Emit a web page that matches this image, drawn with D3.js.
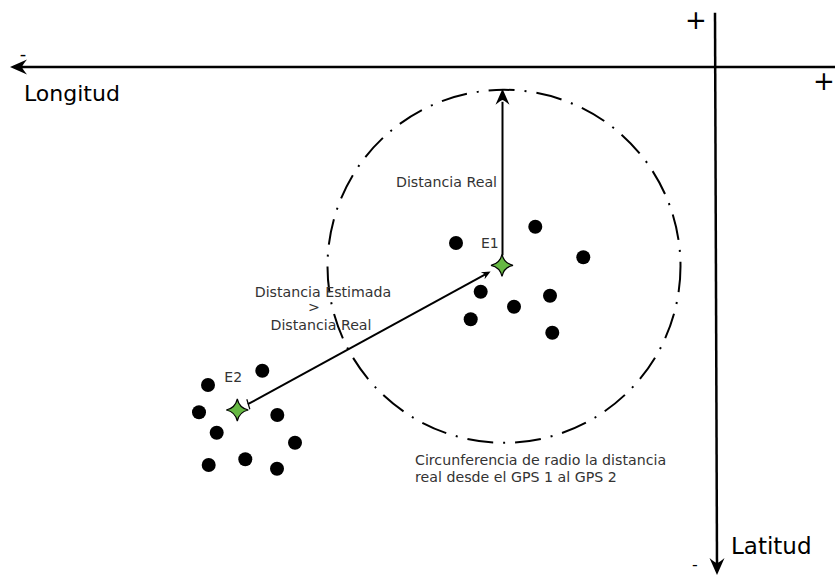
<!DOCTYPE html>
<html>
<head>
<meta charset="utf-8">
<script src="https://cdn.jsdelivr.net/npm/d3@7"></script>
<style>
  body { margin: 0; background: #fff; }
  text { font-family: "DejaVu Sans", sans-serif; }
</style>
</head>
<body>
<div id="chart"></div>
<script>
const WIDTH = 835;
const HEIGHT = 575;
const TEXT_COLOR = "#333";
const STAR_COLOR = "#66b843";

// positions in map units, origin where the two axes cross
const gps1Lon = [-25.9, -17.97, -13.17, -23.43, -20.1, -16.5, -24.43, -16.27];
const gps1Lat = [-17.6, -15.97, -19.03, -22.47, -23.97, -22.87, -25.23, -26.57];
const gps2Lon = [-45.27, -50.7, -51.6, -49.83, -43.77, -42.0, -50.63, -46.97, -43.8];
const gps2Lat = [-30.37, -31.8, -34.53, -36.57, -34.8, -37.57, -39.8, -39.23, -40.17];
const estimateNames = ["E1", "E2"];
const estimateLon = [-21.3, -47.77];
const estimateLat = [-19.83, -34.3];
const circleCenter = [-21.1, -19.93];
const circleRadius = 17.65;

const svg = d3.select("#chart")
    .append("svg")
    .attr("width", WIDTH)
    .attr("height", HEIGHT);

const x = d3.scaleLinear().domain([-70, 12]).range([15, 835]);
const y = d3.scaleLinear().domain([0, -50]).range([67, 567]);
const unit = x(1) - x(0);

// arrow head with a hollowed back, tip at (tx, ty), pointing along angle
function arrowHead(tx, ty, angle, len, half) {
    const c = Math.cos(angle), s = Math.sin(angle);
    const pt = (a, b) => [tx - a * c - b * s, ty - a * s + b * c];
    const p1 = pt(len, -half), p2 = pt(len * 0.7, 0), p3 = pt(len, half);
    return `M${tx},${ty}L${p1}Q${pt(len * 0.75, -half * 0.3)} ${p2}Q${pt(len * 0.75, half * 0.3)} ${p3}Z`;
}

// axes
svg.append("line")
    .attr("x1", x(-69.6)).attr("y1", y(0))
    .attr("x2", x(12)).attr("y2", y(0))
    .attr("stroke", "#000").attr("stroke-width", 2.5);
svg.append("path")
    .attr("d", arrowHead(x(-70.5), y(0), Math.PI, 17, 7.5))
    .attr("fill", "#000");

svg.append("line")
    .attr("x1", x(0)).attr("y1", y(5.43))
    .attr("x2", x(0.2)).attr("y2", y(-49.9))
    .attr("stroke", "#000").attr("stroke-width", 2.5);
svg.append("path")
    .attr("d", arrowHead(x(0.2), y(-50.8), Math.PI / 2, 17, 7.5))
    .attr("fill", "#000");

svg.append("text").attr("x", 696).attr("y", 29).attr("text-anchor", "middle")
    .attr("font-size", 26).text("+");
svg.append("text").attr("x", 824).attr("y", 90).attr("text-anchor", "middle")
    .attr("font-size", 26).text("+");
svg.append("text").attr("x", 23).attr("y", 60).attr("text-anchor", "middle")
    .attr("font-size", 18).text("-");
svg.append("text").attr("x", 695).attr("y", 570).attr("text-anchor", "middle")
    .attr("font-size", 16).text("-");

svg.append("text").attr("x", 24).attr("y", 101)
    .attr("font-size", 22).attr("fill", "#000").text("Longitud");
svg.append("text").attr("x", 731).attr("y", 554)
    .attr("font-size", 23).attr("fill", "#000").text("Latitud");

// circle of radius = real distance
svg.append("circle")
    .attr("cx", x(circleCenter[0])).attr("cy", y(circleCenter[1]))
    .attr("r", circleRadius * unit)
    .attr("fill", "none")
    .attr("stroke", "#000")
    .attr("stroke-width", 2)
    .attr("stroke-dasharray", "26,10,2,10");

// GPS readings
const dots = [];
gps1Lon.forEach((lon, i) => dots.push([lon, gps1Lat[i]]));
gps2Lon.forEach((lon, i) => dots.push([lon, gps2Lat[i]]));
svg.selectAll("circle.gps")
    .data(dots)
    .enter()
    .append("circle")
    .attr("class", "gps")
    .attr("cx", d => x(d[0]))
    .attr("cy", d => y(d[1]))
    .attr("r", 7)
    .attr("fill", "#000");

const e1 = [x(estimateLon[0]), y(estimateLat[0])];
const e2 = [x(estimateLon[1]), y(estimateLat[1])];

// real distance arrow, up to the circle top
const topY = y(circleCenter[1] + circleRadius);
svg.append("line")
    .attr("x1", e1[0] + 0.5).attr("y1", e1[1] - 10)
    .attr("x2", e1[0] + 0.5).attr("y2", topY + 12)
    .attr("stroke", "#000").attr("stroke-width", 2);
svg.append("path")
    .attr("d", arrowHead(e1[0] + 0.5, topY - 1, -Math.PI / 2, 16, 7))
    .attr("fill", "#000");

// estimated distance arrow, from E2 to E1
const ang = Math.atan2(e1[1] - e2[1], e1[0] - e2[0]);
const start = [e2[0] + 12 * Math.cos(ang), e2[1] + 12 * Math.sin(ang)];
const tip = [e1[0] - 13 * Math.cos(ang), e1[1] - 13 * Math.sin(ang)];
svg.append("line")
    .attr("x1", start[0]).attr("y1", start[1])
    .attr("x2", tip[0] - 6 * Math.cos(ang)).attr("y2", tip[1] - 6 * Math.sin(ang))
    .attr("stroke", "#000").attr("stroke-width", 2);
svg.append("path")
    .attr("d", arrowHead(tip[0], tip[1], ang, 9, 4))
    .attr("fill", "#000");
svg.append("path")
    .attr("d", `M${start[0] - 1},${start[1] - 5}L${start[0] + 2},${start[1] + 5}`)
    .attr("stroke", "#000").attr("stroke-width", 1.2);

// estimates as four point stars
const starPath = r => {
    const k = r * 0.18;
    return `M0,${-r}Q${k},${-k} ${r},0Q${k},${k} 0,${r}Q${-k},${k} ${-r},0Q${-k},${-k} 0,${-r}Z`;
};
svg.selectAll("path.star")
    .data(estimateNames)
    .enter()
    .append("path")
    .attr("class", "star")
    .attr("transform", (d, i) => `translate(${x(estimateLon[i])},${y(estimateLat[i])})`)
    .attr("d", starPath(11))
    .attr("fill", STAR_COLOR)
    .attr("stroke", "#000")
    .attr("stroke-width", 1.2);

svg.append("text").attr("x", e1[0] - 21).attr("y", e1[1] - 17)
    .attr("font-size", 14).attr("fill", TEXT_COLOR).text(estimateNames[0]);
svg.append("text").attr("x", e2[0] - 13).attr("y", e2[1] - 28)
    .attr("font-size", 14).attr("fill", TEXT_COLOR).text(estimateNames[1]);

// annotations
const small = (tx, ty, str, anchor) => svg.append("text")
    .attr("x", tx).attr("y", ty)
    .attr("text-anchor", anchor || "start")
    .attr("font-size", 14.2)
    .attr("fill", TEXT_COLOR)
    .text(str);

small(396, 187, "Distancia Real");
small(323, 297, "Distancia Estimada", "middle");
small(314, 312, ">", "middle");
small(321, 330, "Distancia Real", "middle");
small(415, 465, "Circunferencia de radio la distancia");
small(415, 482, "real desde el GPS 1 al GPS 2");
</script>
</body>
</html>
